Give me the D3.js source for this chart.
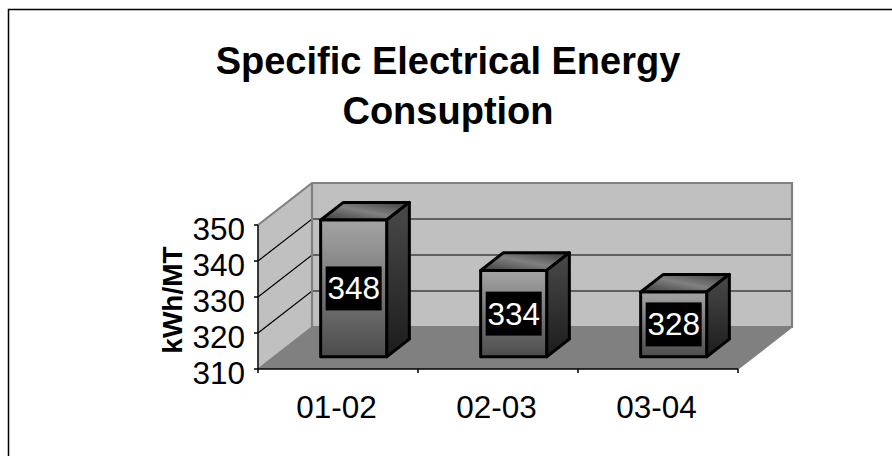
<!DOCTYPE html>
<html>
<head>
<meta charset="utf-8">
<script src="https://cdn.jsdelivr.net/npm/d3@7/dist/d3.min.js"></script>
<style>
  html, body { margin: 0; padding: 0; background: #fff; }
  svg { display: block; font-family: Arial, "Liberation Sans", sans-serif; }
</style>
</head>
<body>
<svg id="chart" width="892" height="456"></svg>
<script>
// Chart data
const titleLines = ["Specific Electrical Energy", "Consuption"];
const categories = ["01-02", "02-03", "03-04"];
const values = [348, 334, 328];
const yTicks = [310, 320, 330, 340, 350];
const yDomain = [310, 350];
const yLabel = "kWh/MT";

const svg = d3.select("#chart");

// Outer frame
svg.append("rect")
  .attr("x", 8.5).attr("y", 9.5)
  .attr("width", 1000).attr("height", 1000)
  .attr("fill", "#fff").attr("stroke", "#000").attr("stroke-width", 1.5);

// Oblique 3D frame: front plane + depth offset
const front = { x0: 258, x1: 738 };
const depth = { dx: 54, dy: -42 };
const x = d3.scaleBand().domain(categories).range([front.x0, front.x1]);
const y = d3.scaleLinear().domain(yDomain).range([369, 225]);

// project (front-plane x, value, depth fraction 0..1)
const P = (px, v, f) => [px + depth.dx * f, y(v) + depth.dy * f];
const poly = pts => "M" + pts.map(p => p.join(",")).join("L") + "Z";

const labelSize = 31.5;
const plainText = (parent, tx, ty, str, anchor, fill) =>
  parent.append("text")
    .attr("x", tx).attr("y", ty)
    .attr("text-anchor", anchor).attr("font-size", labelSize).attr("fill", fill)
    .text(str);

const [vMin, vMax] = yDomain;
const g = svg.append("g");

// Floor
g.append("path")
  .attr("d", poly([P(front.x0, vMin, 0), P(front.x0, vMin, 1), P(front.x1, vMin, 1), P(front.x1, vMin, 0)]))
  .attr("fill", "#808080");

// Side wall
g.append("path")
  .attr("d", poly([P(front.x0, vMin, 0), P(front.x0, vMax, 0), P(front.x0, vMax, 1), P(front.x0, vMin, 1)]))
  .attr("fill", "#c0c0c0");

// Back wall
g.append("path")
  .attr("d", poly([P(front.x0, vMin, 1), P(front.x0, vMax, 1), P(front.x1, vMax, 1), P(front.x1, vMin, 1)]))
  .attr("fill", "#c0c0c0");

// Gridlines on side and back walls
const grid = yTicks.filter(v => v > vMin && v < vMax);
grid.forEach(v => {
  const a = P(front.x0, v, 0), b = P(front.x0, v, 1), c = P(front.x1, v, 1);
  g.append("path")
    .attr("d", `M${a}L${b}L${c}`)
    .attr("fill", "none").attr("stroke", "#000").attr("stroke-width", 1.2);
});

// Wall edges
g.append("path")
  .attr("d", `M${P(front.x0, vMax, 0)}L${P(front.x0, vMax, 1)}L${P(front.x1, vMax, 1)}L${P(front.x1, vMin, 1)}L${P(front.x0, vMin, 1)}L${P(front.x0, vMax, 1)}`)
  .attr("fill", "none").attr("stroke", "#808080").attr("stroke-width", 2.2).attr("stroke-linejoin", "miter");
g.append("path")
  .attr("d", `M${P(front.x0, vMin, 0)}L${P(front.x0, vMin, 1)}`)
  .attr("fill", "none").attr("stroke", "#808080").attr("stroke-width", 1.5);
g.append("path")
  .attr("d", `M${P(front.x1, vMin, 0)}L${P(front.x1, vMin, 1)}`)
  .attr("fill", "none").attr("stroke", "#808080").attr("stroke-width", 1.5);

// Gradients for bar faces
const defs = svg.append("defs");
const lg = (id, x1, y1, x2, y2, stops) => {
  const grad = defs.append("linearGradient").attr("id", id)
    .attr("x1", x1).attr("y1", y1).attr("x2", x2).attr("y2", y2);
  stops.forEach(([o, c]) => grad.append("stop").attr("offset", o).attr("stop-color", c));
};
lg("gFront", 0, 0, 0, 1, [[0, "#a4a4a4"], [1, "#4c4c4c"]]);
lg("gSide", 0, 0, 0, 1, [[0, "#4a4a4a"], [1, "#1c1c1c"]]);
lg("gTop", 0, 1, 1, 0, [[0, "#3c3c3c"], [0.5, "#808080"], [1, "#3c3c3c"]]);

// Bars
const barW = 66;
const d0 = 0.29, d1 = 0.71;
const bars = g.append("g");
categories.forEach((c, i) => {
  const v = values[i];
  const xl = x(c) + (x.bandwidth() - barW) / 2, xr = xl + barW;
  const bg = bars.append("g");
  // top face
  bg.append("path")
    .attr("d", poly([P(xl, v, d0), P(xl, v, d1), P(xr, v, d1), P(xr, v, d0)]))
    .attr("fill", "url(#gTop)").attr("stroke", "#000").attr("stroke-width", 3).attr("stroke-linejoin", "round");
  // side face
  bg.append("path")
    .attr("d", poly([P(xr, vMin, d0), P(xr, v, d0), P(xr, v, d1), P(xr, vMin, d1)]))
    .attr("fill", "url(#gSide)").attr("stroke", "#000").attr("stroke-width", 3).attr("stroke-linejoin", "round");
  // front face
  bg.append("path")
    .attr("d", poly([P(xl, vMin, d0), P(xl, v, d0), P(xr, v, d0), P(xr, vMin, d0)]))
    .attr("fill", "url(#gFront)").attr("stroke", "#000").attr("stroke-width", 3).attr("stroke-linejoin", "round");

  // value label, centred on the front face
  const [fxl, fyTop] = P(xl, v, d0);
  const [, fyBot] = P(xl, vMin, d0);
  const cx = fxl + barW / 2, cy = (fyTop + fyBot) / 2;
  bg.append("rect")
    .attr("x", cx - 28).attr("y", cy - 22).attr("width", 56).attr("height", 44)
    .attr("fill", "#000");
  plainText(bg, cx, cy + 11, v, "middle", "#fff");
});

// Y axis
const ax = svg.append("g");
ax.append("line")
  .attr("x1", front.x0).attr("x2", front.x0).attr("y1", y(vMax)).attr("y2", y(vMin))
  .attr("stroke", "#000").attr("stroke-width", 1.5);
yTicks.forEach(v => {
  ax.append("line")
    .attr("x1", front.x0 - 4).attr("x2", front.x0).attr("y1", y(v)).attr("y2", y(v))
    .attr("stroke", "#000").attr("stroke-width", 1.5);
  plainText(ax, 245, y(v) + 15, v, "end", "#000");
});

// X axis
ax.append("line")
  .attr("x1", front.x0).attr("x2", front.x1).attr("y1", y(vMin)).attr("y2", y(vMin))
  .attr("stroke", "#000").attr("stroke-width", 1.5);
const xTickPos = categories.map(c => x(c)).concat([front.x1]);
xTickPos.forEach(px => {
  ax.append("line")
    .attr("x1", px).attr("x2", px).attr("y1", y(vMin)).attr("y2", y(vMin) + 4)
    .attr("stroke", "#000").attr("stroke-width", 1.5);
});
categories.forEach(c => {
  plainText(ax, x(c) + x.bandwidth() / 2 - 1.5, 417.5, c, "middle", "#000");
});

// Y axis title
svg.append("text")
  .attr("transform", `translate(182,${(y(vMin) + y(vMax)) / 2 + 3}) rotate(-90)`)
  .attr("text-anchor", "middle").attr("font-size", 28).attr("font-weight", "bold")
  .text(yLabel);

// Chart title
svg.append("text")
  .attr("text-anchor", "middle").attr("font-size", 38).attr("font-weight", "bold")
  .selectAll("tspan").data(titleLines).join("tspan")
  .attr("x", 448).attr("y", (d, i) => 73.5 + i * 50.5)
  .text(d => d);
</script>
</body>
</html>
